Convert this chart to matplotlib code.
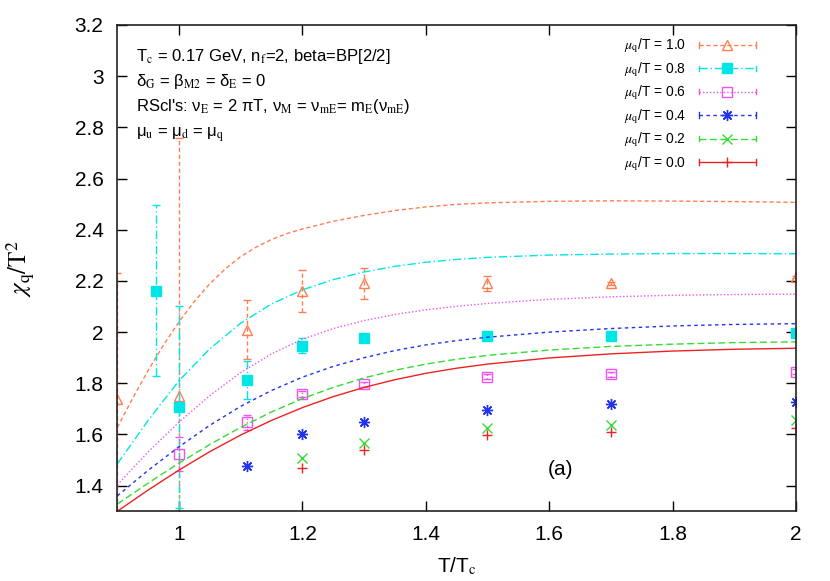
import numpy as np
import matplotlib
matplotlib.use("Agg")
import matplotlib.pyplot as plt
from matplotlib.lines import Line2D
from matplotlib.legend_handler import HandlerLine2D

plt.rcParams['font.family'] = ['Liberation Sans', 'DejaVu Sans']
plt.rcParams['mathtext.fontset'] = 'stix'

# perturbative curves
xc = [0.9, 0.95, 1.0, 1.05, 1.1, 1.15, 1.2, 1.25, 1.3, 1.35, 1.4, 1.45, 1.5, 1.6, 1.7, 1.8, 1.9, 2.0]
curve_08 = [1.485, 1.655, 1.81, 1.935, 2.035, 2.11, 2.165, 2.205, 2.235, 2.257, 2.273, 2.284, 2.292, 2.301, 2.305, 2.307, 2.307, 2.306]
curve_06 = [1.403, 1.532, 1.648, 1.752, 1.842, 1.915, 1.972, 2.014, 2.045, 2.069, 2.087, 2.101, 2.112, 2.128, 2.138, 2.144, 2.147, 2.148]
curve_04 = [1.360, 1.460, 1.552, 1.636, 1.710, 1.772, 1.824, 1.866, 1.900, 1.928, 1.950, 1.967, 1.980, 2.000, 2.014, 2.024, 2.030, 2.033]
curve_02 = [1.328, 1.410, 1.488, 1.561, 1.628, 1.688, 1.740, 1.784, 1.821, 1.851, 1.875, 1.894, 1.909, 1.930, 1.944, 1.953, 1.959, 1.962]
curve_00 = [1.300, 1.383, 1.461, 1.533, 1.598, 1.655, 1.705, 1.748, 1.784, 1.814, 1.839, 1.859, 1.875, 1.899, 1.915, 1.926, 1.933, 1.937]
# the mu/T = 1.0 curve rises faster, so it is read more densely at the start
xc10 = [0.9, 0.925, 0.95, 0.975, 1.0, 1.025, 1.05, 1.075, 1.1, 1.125, 1.15, 1.175, 1.2,
        1.25, 1.3, 1.35, 1.4, 1.45, 1.5, 1.6, 1.7, 1.8, 1.9, 2.0]
curve_10 = [1.627, 1.742, 1.85, 1.95, 2.04, 2.12, 2.189, 2.247, 2.295, 2.332, 2.362, 2.385, 2.403,
            2.433, 2.456, 2.475, 2.489, 2.499, 2.505, 2.511, 2.513, 2.512, 2.51, 2.507]

# lattice points
x10 = [0.9, 1.0, 1.11, 1.2, 1.3, 1.5, 1.7, 2.0]
y10 = [1.74, 1.75, 2.01, 2.16, 2.19, 2.19, 2.19, 2.216]
e10 = [0.49, 1.01, 0.115, 0.082, 0.06, 0.028, 0.005, 0.005]
x08 = [0.963, 1.0, 1.11, 1.2, 1.3, 1.5, 1.7, 2.0]
y08 = [2.162, 1.706, 1.813, 1.947, 1.976, 1.986, 1.986, 1.995]
e08 = [0.333, 0.395, 0.074, 0.03, 0.005, 0.005, 0.005, 0.005]
x06 = [1.0, 1.11, 1.2, 1.3, 1.5, 1.7, 2.0]
y06 = [1.524, 1.648, 1.758, 1.797, 1.826, 1.836, 1.845]
e06 = [0.065, 0.03, 0.01, 0.01, 0.01, 0.01, 0.01]
x04 = [1.11, 1.2, 1.3, 1.5, 1.7, 2.0]
y04 = [1.478, 1.60, 1.648, 1.696, 1.718, 1.727]
x02 = [1.2, 1.3, 1.5, 1.7, 2.0]
y02 = [1.51, 1.568, 1.627, 1.637, 1.657]
x00 = [1.2, 1.3, 1.5, 1.7, 2.0]
y00 = [1.47, 1.539, 1.598, 1.609, 1.627]

labels = ["1.0", "0.8", "0.6", "0.4", "0.2", "0.0"]

fig = plt.figure(figsize=(8.3, 5.81), dpi=100)
ax = fig.add_axes([0.1413, 0.12, 0.8177, 0.837])

styles = [
    ("#ff7f50", (0, (3, 2)), '^', 'none', 6.5),
    ("#00e5e5", (0, (6, 2, 1, 2)), 's', "#00e5e5", 6.5),
    ("#ee55ee", (0, (1, 1.5)), 's', 'none', 7),
    ("#2233ee", (0, (2.5, 2.5)), (8, 2, 0), "#2233ee", 8),
    ("#33dd33", (0, (5, 2.5)), 'x', "#33dd33", 6.5),
    ("#ee2222", '-', '+', "#ee2222", 7),
]
curves = [(xc10, curve_10), (xc, curve_08), (xc, curve_06), (xc, curve_04), (xc, curve_02), (xc, curve_00)]
points = [(x10, y10, e10), (x08, y08, e08), (x06, y06, e06),
          (x04, y04, None), (x02, y02, None), (x00, y00, None)]

handles = []
for (col, ls, mk, mfc, ms), (cx, cy), (px, py, pe) in zip(styles, curves, points):
    ax.plot(cx, cy, color=col, ls=ls, lw=1.0)
    if pe is not None:
        eb = ax.errorbar(px, py, yerr=pe, fmt='none', ecolor=col, elinewidth=1.0,
                         capsize=3, capthick=1.0)
        eb[2][0].set_linestyle(ls)
    ax.plot(px, py, ls='none', marker=mk, ms=ms, mfc=mfc, mec=col, mew=1.0)
    handles.append(Line2D([], [], color=col, ls=ls, lw=1.0, marker=mk, ms=ms,
                          mfc=mfc, mec=col, mew=1.0))


class CapHandler(HandlerLine2D):
    def create_artists(self, legend, orig_handle, xdescent, ydescent, width,
                       height, fontsize, trans):
        arts = super().create_artists(legend, orig_handle, xdescent, ydescent,
                                      width, height, fontsize, trans)
        y = height / 2 - ydescent
        c = height * 0.28
        for x in (-xdescent, width - xdescent):
            cap = Line2D([x, x], [y - c, y + c], color=orig_handle.get_color(), lw=1.0)
            cap.set_transform(trans)
            arts.append(cap)
        return arts


leg = ax.legend(handles, [r"$\mu_\mathrm{q}$/T = " + s for s in labels],
                loc='upper right', bbox_to_anchor=(0.951, 0.99), frameon=False,
                markerfirst=False, numpoints=1, fontsize=10, handlelength=4.1,
                handletextpad=0.9, labelspacing=0.34, borderpad=0,
                handler_map={Line2D: CapHandler()})

ax.set_xlim(0.9, 2.0)
ax.set_ylim(1.3, 3.2)
ax.set_xticks([1, 1.2, 1.4, 1.6, 1.8, 2])
ax.set_xticklabels(["1", "1.2", "1.4", "1.6", "1.8", "2"])
ax.set_yticks([1.4, 1.6, 1.8, 2.0, 2.2, 2.4, 2.6, 2.8, 3.0, 3.2])
ax.set_yticklabels(["1.4", "1.6", "1.8", "2", "2.2", "2.4", "2.6", "2.8", "3", "3.2"])
ax.tick_params(direction='in', length=7, width=1, top=True, right=True,
               labelsize=15, pad=10)
for s in ax.spines.values():
    s.set_linewidth(1.2)
    s.set_color('#222222')

ax.set_xlabel(r"T/T$_\mathrm{c}$", fontsize=15, labelpad=8)
ax.set_ylabel(r"$\chi_\mathrm{q}/\mathrm{T}^2$", fontsize=18, labelpad=28)

tx = 0.0276
ax.text(tx, 0.926, r"T$_\mathrm{c}$ = 0.17 GeV, n$_\mathrm{f}$=2, beta=BP[2/2]",
        transform=ax.transAxes, fontsize=12, va='baseline')
ax.text(tx, 0.875, r"δ$_\mathrm{G}$ = β$_\mathrm{M2}$ = δ$_\mathrm{E}$ = 0",
        transform=ax.transAxes, fontsize=12, va='baseline')
ax.text(tx, 0.823, r"RScl's: ν$_\mathrm{E}$ = 2 πT, ν$_\mathrm{M}$ = ν$_\mathrm{mE}$= m$_\mathrm{E}$(ν$_\mathrm{mE}$)",
        transform=ax.transAxes, fontsize=12, va='baseline')
ax.text(tx, 0.770, r"μ$_\mathrm{u}$ = μ$_\mathrm{d}$ = μ$_\mathrm{q}$",
        transform=ax.transAxes, fontsize=12, va='baseline')
ax.text(0.635, 0.074, "(a)", transform=ax.transAxes, fontsize=15, va='baseline')

fig.savefig("out.png", dpi=100)
